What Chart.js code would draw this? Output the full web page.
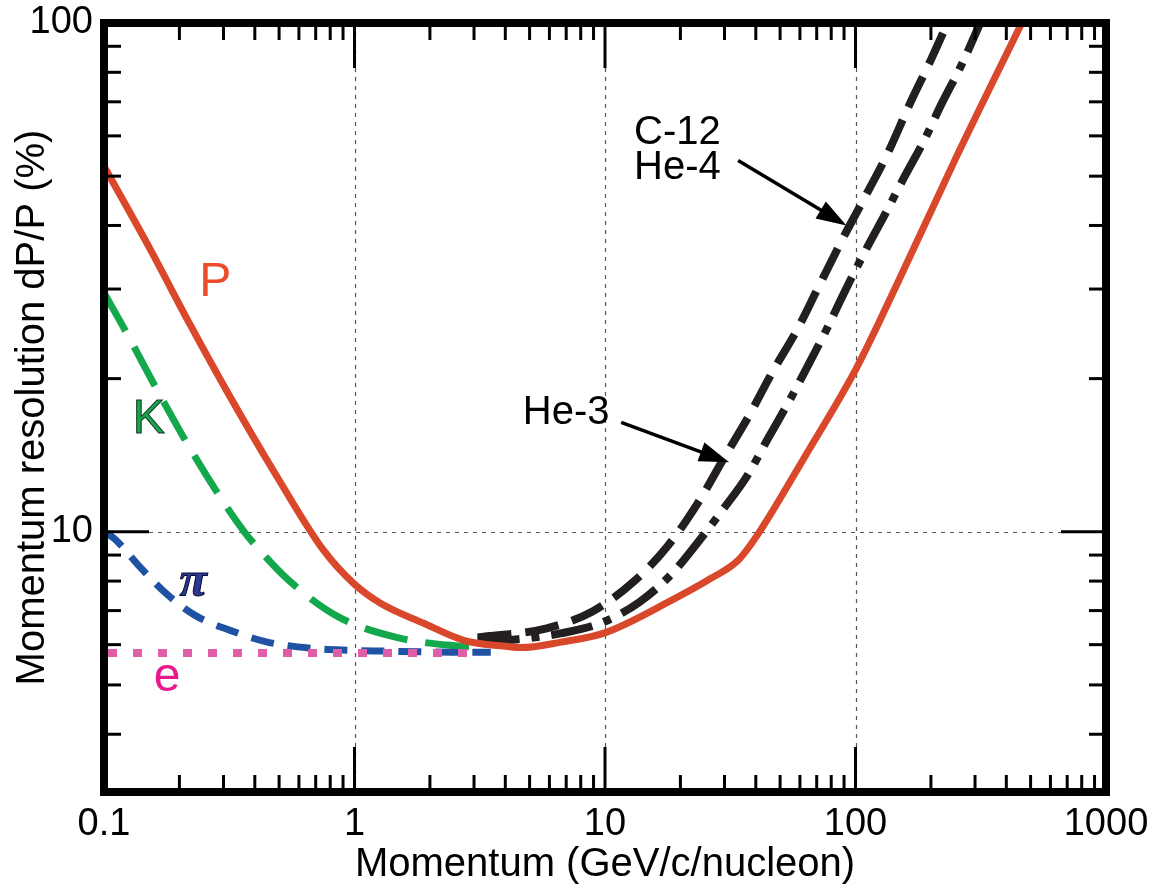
<!DOCTYPE html>
<html>
<head>
<meta charset="utf-8">
<script src="https://cdn.jsdelivr.net/npm/chart.js@4.4.1/dist/chart.umd.min.js"></script>
<style>
html, body { margin: 0; padding: 0; background: #fff; }
canvas { display: block; }
</style>
</head>
<body>
<canvas id="c" width="1164" height="894"></canvas>
<script>
// ---- tick labels ----
const xTickValues = [0.1, 1, 10, 100, 1000];
const xTickLabels = ['0.1', '1', '10', '100', '1000'];
const yTickValues = [10, 100];
const yTickLabels = ['10', '100'];
const minorMultipliers = [2, 3, 4, 5, 6, 7, 8, 9];

// ---- series: momentum (GeV/c/nucleon) and resolution dP/P (%) ----
const pMomentum = [0.1, 0.153, 0.221, 0.319, 0.492, 0.752, 0.991, 1.27, 1.89, 2.73, 4.09, 4.62, 6.67, 9.9, 18.4, 26.5, 34, 41, 62.5, 101, 148, 249, 461];
const pRes      = [52.3, 35.9, 25.5, 18.4, 12.8, 9.2, 7.92, 7.24, 6.61, 6.12, 5.95, 5.92, 6.07, 6.32, 7.33, 8.1, 8.79, 9.93, 14.0, 21.0, 31.0, 53.7, 100];

const kMomentum = [0.1, 0.1236, 0.163, 0.215, 0.291, 0.363, 0.409, 0.54, 0.855, 1.47, 2.61, 3.1];
const kRes      = [29.5, 24.5, 19.0, 14.9, 11.7, 10.0, 9.32, 8.07, 6.82, 6.2, 5.96, 5.93];

const piMomentum = [0.1, 0.11, 0.137, 0.175, 0.231, 0.319, 0.449, 0.68, 0.946, 1.27, 2.47, 3.5];
const piRes      = [10.0, 9.7, 8.6, 7.6, 6.85, 6.4, 6.07, 5.9, 5.85, 5.83, 5.8, 5.8];

const eMomentum = [0.1, 3.0];
const eRes      = [5.78, 5.78];

const heavyMomentum = [3.1, 5.86, 8.95, 13.1, 17.9, 23.5, 30.2, 37.3, 46.6, 58.6, 69.8, 88.7, 105.7, 135.5, 164.4, 201, 233];
const heavyRes      = [6.2, 6.46, 6.98, 8.0, 9.41, 11.4, 14.1, 16.8, 20.6, 25.0, 29.7, 37.6, 44.2, 55.9, 69.2, 85.1, 100];

const he3Momentum = [3.1, 4.5, 6.73, 9.8, 13.7, 18.4, 23.5, 29.6, 37, 44.9, 54, 64.9, 77.3, 89.5, 108.6, 130.6, 155.6, 187, 221, 263, 315];
const he3Res      = [6.1, 6.15, 6.32, 6.64, 7.27, 8.25, 9.54, 11.07, 12.9, 15.3, 17.96, 21.3, 25.2, 29.3, 35.4, 41.9, 49.5, 58.5, 69.5, 82.1, 100];

// ---- annotation texts (anchored in data coordinates) ----
const labelTexts = ['P', 'K', 'π', 'e', 'C-12', 'He-4', 'He-3'];
const labelMomentum = [0.278, 0.151, 0.227, 0.1786, 13.06, 13.06, 4.7];
const labelRes = [30.8, 16.6, 7.93, 5.155, 60.9, 51.8, 17.1];
const arrowFrom = [[34.0, 53.7], [11.6, 16.4]];
const arrowTo   = [[92, 40.0], [31.3, 13.7]];

const FONT = "'Liberation Sans', Arial, Helvetica, sans-serif";
const labelStyles = [
  { font: `48px ${FONT}`, fill: '#ee4b2b', align: 'center' },
  { font: `48px ${FONT}`, fill: '#12a84b', stroke: '#13301c', align: 'center' },
  { font: `italic bold 50px 'Liberation Serif', 'DejaVu Serif', serif`, fill: '#2b3a93', stroke: '#0a0a30', align: 'center' },
  { font: `48px ${FONT}`, fill: '#e8198c', align: 'center' },
  { font: `40px ${FONT}`, fill: '#000', align: 'left' },
  { font: `40px ${FONT}`, fill: '#000', align: 'left' },
  { font: `40px ${FONT}`, fill: '#000', align: 'left' }
];

function pts(xs, ys) { return xs.map((v, i) => ({ x: v, y: ys[i] })); }

const framePlugin = {
  id: 'frame',
  beforeDatasetsDraw(chart) {
    const { ctx, chartArea: a, scales: { x, y } } = chart;
    ctx.save();
    ctx.strokeStyle = '#555';
    ctx.lineWidth = 1.2;
    ctx.setLineDash([4, 5]);
    xTickValues.forEach(v => {
      if (v <= x.min || v >= x.max) return;
      const px = Math.round(x.getPixelForValue(v)) + 0.5;
      ctx.beginPath(); ctx.moveTo(px, a.top); ctx.lineTo(px, a.bottom); ctx.stroke();
    });
    yTickValues.forEach(v => {
      if (v <= y.min || v >= y.max) return;
      const py = Math.round(y.getPixelForValue(v)) + 0.5;
      ctx.beginPath(); ctx.moveTo(a.left, py); ctx.lineTo(a.right, py); ctx.stroke();
    });
    ctx.restore();
  },
  afterDatasetsDraw(chart) {
    const { ctx, chartArea: a, scales: { x, y } } = chart;
    ctx.save();
    // annotation labels
    ctx.textBaseline = 'middle';
    labelTexts.forEach((t, i) => {
      const s = labelStyles[i];
      ctx.font = s.font;
      ctx.textAlign = s.align;
      const px = x.getPixelForValue(labelMomentum[i]);
      const py = y.getPixelForValue(labelRes[i]);
      ctx.fillStyle = s.fill;
      ctx.fillText(t, px, py);
      if (s.stroke) { ctx.lineWidth = 1; ctx.strokeStyle = s.stroke; ctx.strokeText(t, px, py); }
    });
    // arrows
    ctx.strokeStyle = '#000';
    ctx.fillStyle = '#000';
    arrowFrom.forEach((f, i) => {
      const x0 = x.getPixelForValue(f[0]), y0 = y.getPixelForValue(f[1]);
      const x1 = x.getPixelForValue(arrowTo[i][0]), y1 = y.getPixelForValue(arrowTo[i][1]);
      const ang = Math.atan2(y1 - y0, x1 - x0);
      const L = 30, W = 10;
      const bx = x1 - L * Math.cos(ang), by = y1 - L * Math.sin(ang);
      ctx.lineWidth = 3.5;
      ctx.beginPath(); ctx.moveTo(x0, y0); ctx.lineTo(bx + 2 * Math.cos(ang), by + 2 * Math.sin(ang)); ctx.stroke();
      ctx.beginPath();
      ctx.moveTo(x1, y1);
      ctx.lineTo(bx - W * Math.sin(ang), by + W * Math.cos(ang));
      ctx.lineTo(bx + W * Math.sin(ang), by - W * Math.cos(ang));
      ctx.closePath(); ctx.fill();
    });
    // inward tick marks
    ctx.strokeStyle = '#000';
    ctx.lineWidth = 3;
    ctx.setLineDash([]);
    const MAJ = 45, MIN = 17;
    const xTicks = [];
    xTickValues.forEach(v => { if (v > x.min && v < x.max) xTicks.push([v, MAJ]); });
    xTickValues.slice(0, -1).forEach(b => minorMultipliers.forEach(m => xTicks.push([b * m, MIN])));
    xTicks.forEach(([v, len]) => {
      const px = x.getPixelForValue(v);
      ctx.beginPath(); ctx.moveTo(px, a.bottom); ctx.lineTo(px, a.bottom - len); ctx.stroke();
      ctx.beginPath(); ctx.moveTo(px, a.top); ctx.lineTo(px, a.top + len); ctx.stroke();
    });
    const yTicks = [];
    yTickValues.forEach(v => { if (v > y.min && v < y.max) yTicks.push([v, MAJ]); });
    [1, 10].forEach(b => minorMultipliers.forEach(m => { const v = b * m; if (v > y.min && v < y.max) yTicks.push([v, MIN]); }));
    yTicks.forEach(([v, len]) => {
      const py = y.getPixelForValue(v);
      ctx.beginPath(); ctx.moveTo(a.left, py); ctx.lineTo(a.left + len, py); ctx.stroke();
      ctx.beginPath(); ctx.moveTo(a.right, py); ctx.lineTo(a.right - len, py); ctx.stroke();
    });
    // frame
    ctx.lineWidth = 8;
    ctx.strokeRect(a.left, a.top, a.right - a.left, a.bottom - a.top);
    ctx.restore();
  }
};

new Chart(document.getElementById('c'), {
  type: 'line',
  data: {
    datasets: [
      { label: 'P', data: pts(pMomentum, pRes), borderColor: '#d9482b', borderWidth: 7, order: 0 },
      { label: 'e', data: pts(eMomentum, eRes), borderColor: '#e05ea8', borderWidth: 8, borderDash: [9, 16], borderDashOffset: -4, order: 1 },
      { label: 'π', data: pts(piMomentum, piRes), borderColor: '#1f52a3', borderWidth: 7, borderDash: [23, 14], order: 2 },
      { label: 'K', data: pts(kMomentum, kRes), borderColor: '#12a84b', borderWidth: 7, borderDash: [44, 18], order: 3 },
      { label: 'C-12 / He-4', data: pts(heavyMomentum, heavyRes), borderColor: '#231f20', borderWidth: 8, borderDash: [34, 14], order: 4 },
      { label: 'He-3', data: pts(he3Momentum, he3Res), borderColor: '#231f20', borderWidth: 8, borderDash: [42, 12, 8, 12], order: 5 }
    ]
  },
  options: {
    responsive: false,
    animation: false,
    devicePixelRatio: 1,
    layout: { padding: { top: 23, right: 58, left: 0, bottom: 0 } },
    plugins: { legend: { display: false }, tooltip: { enabled: false } },
    elements: {
      point: { radius: 0, hoverRadius: 0 },
      line: { cubicInterpolationMode: 'monotone', borderCapStyle: 'butt', fill: false }
    },
    scales: {
      x: {
        type: 'logarithmic', min: 0.1, max: 1000, position: 'bottom',
        afterBuildTicks: s => { s.ticks = xTickValues.map(v => ({ value: v })); },
        afterFit: s => { s.height = 102; s.paddingLeft = 0; s.paddingRight = 0; },
        grid: { display: false, drawTicks: false, tickLength: 0 },
        border: { display: false },
        ticks: { autoSkip: false, maxRotation: 0, padding: 10, color: '#000', font: { family: FONT, size: 38 }, callback: (v, i) => xTickLabels[i] },
        title: { display: true, text: 'Momentum (GeV/c/nucleon)', color: '#000', font: { family: FONT, size: 40 }, padding: { top: 0, bottom: 5 } }
      },
      y: {
        type: 'logarithmic', min: 3.08, max: 100, position: 'left',
        afterBuildTicks: s => { s.ticks = yTickValues.map(v => ({ value: v })); },
        afterFit: s => { s.width = 104; s.paddingTop = 0; s.paddingBottom = 0; },
        grid: { display: false, drawTicks: false, tickLength: 0 },
        border: { display: false },
        ticks: { autoSkip: false, padding: 11, color: '#000', font: { family: FONT, size: 38 }, callback: (v, i) => yTickLabels[i] },
        title: { display: true, text: 'Momentum resolution dP/P (%)', color: '#000', font: { family: FONT, size: 40 }, padding: { top: 9, bottom: 0 } }
      }
    }
  },
  plugins: [framePlugin]
});
</script>
</body>
</html>
